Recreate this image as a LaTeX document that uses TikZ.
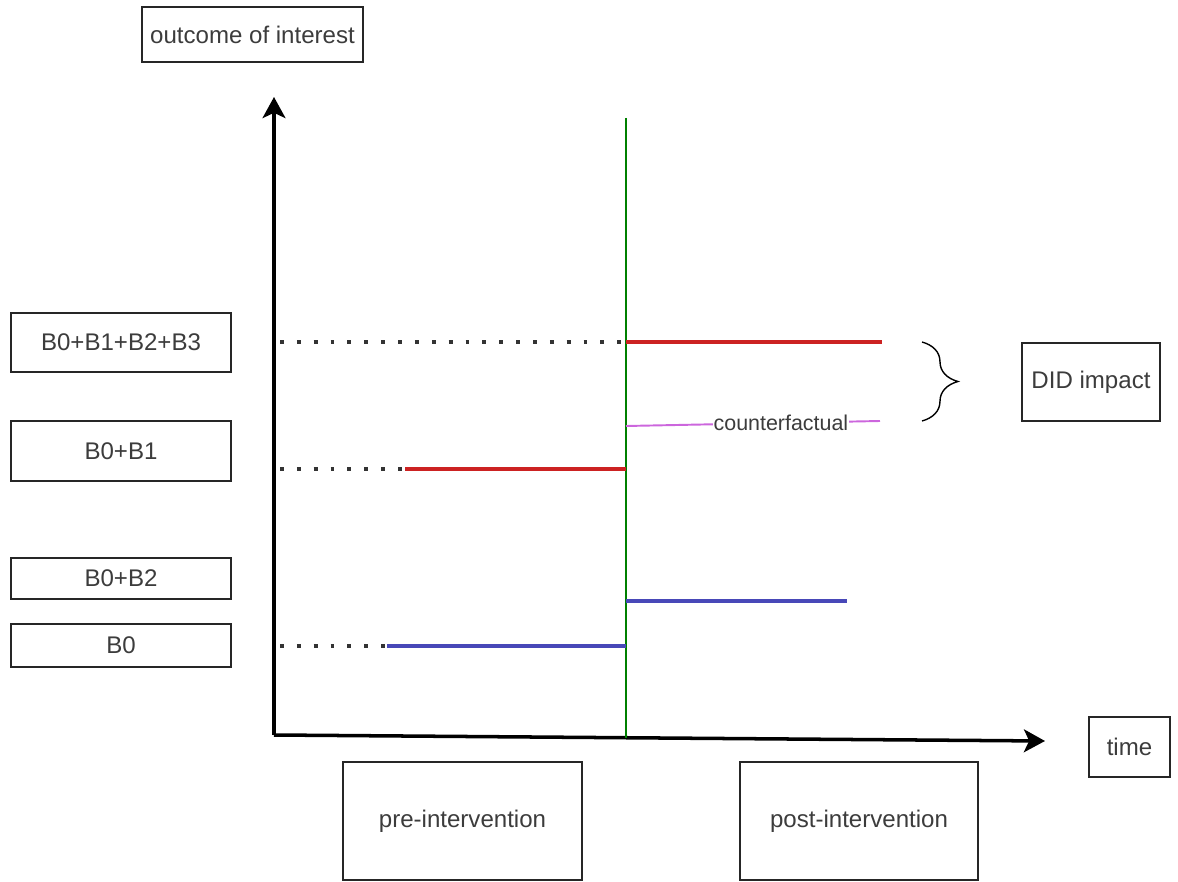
\documentclass[tikz,border=0pt]{standalone}
\usepackage{fontspec}
\setmainfont{Liberation Sans}
\usetikzlibrary{arrows.meta}
\usetikzlibrary{decorations.pathreplacing}
\tikzset{>={Stealth[length=12pt,width=13pt,inset=3pt]}}
\definecolor{didred}{RGB}{204,34,34}
\definecolor{didblue}{RGB}{72,72,184}
\definecolor{didpink}{RGB}{204,102,221}
\definecolor{didgreen}{RGB}{0,128,0}
\definecolor{textgray}{RGB}{60,60,60}
\tikzstyle{labelbox}=[draw=black!85,line width=0.8pt,text=textgray,font=\fontsize{13.7}{16}\selectfont,inner sep=0pt]
\tikzstyle{axisline}=[draw=black,line width=2pt]
\tikzstyle{redline}=[draw=didred,line width=2.3pt]
\tikzstyle{blueline}=[draw=didblue,line width=2.3pt]
\tikzstyle{dotline}=[draw=black!80,line width=2.2pt,dash pattern=on 2.2pt off 7.4pt]

\begin{document}
\begin{tikzpicture}[x=0.02cm,y=-0.02cm]
    \useasboundingbox (0,0) rectangle (1178,882);

    % label boxes
    \node[labelbox,minimum width=4.42cm,minimum height=1.1cm] (outcome) at (252.5,34.5) {outcome of interest};
    \node[labelbox,minimum width=4.4cm,minimum height=1.18cm] (bthree) at (121,342.5) {B0+B1+B2+B3};
    \node[labelbox,minimum width=4.4cm,minimum height=1.2cm] (bone) at (121,451) {B0+B1};
    \node[labelbox,minimum width=4.4cm,minimum height=0.82cm] (btwo) at (121,578.5) {B0+B2};
    \node[labelbox,minimum width=4.4cm,minimum height=0.86cm] (bzero) at (121,645.5) {B0};
    \node[labelbox,minimum width=2.76cm,minimum height=1.56cm] (did) at (1091,382) {DID impact};
    \node[labelbox,minimum width=1.62cm,minimum height=1.2cm] (time) at (1129.5,747) {time};
    \node[labelbox,minimum width=4.78cm,minimum height=2.36cm] (pre) at (462.5,821) {pre-intervention};
    \node[labelbox,minimum width=4.76cm,minimum height=2.36cm] (post) at (859,821) {post-intervention};

    % axes
    \coordinate (origin) at (274,735);
    \coordinate (ytip) at (274,97);
    \coordinate (xtip) at (1045,741);
    \draw[axisline,->] (origin) -- (ytip);
    \draw[axisline,->] (origin) -- (xtip);

    % intervention
    \coordinate (gtop) at (626,118);
    \coordinate (gbot) at (626,738);
    \draw[didgreen,line width=0.6pt] (gtop) -- (gbot);

    % levels
    \coordinate (dthree) at (280,342);
    \coordinate (tthree) at (626,342);
    \coordinate (ethree) at (882,342);
    \draw[dotline] (dthree) -- (tthree);
    \draw[redline] (tthree) -- (ethree);

    \coordinate (done) at (280,469);
    \coordinate (sone) at (405,469);
    \coordinate (tone) at (626,469);
    \draw[dotline] (done) -- (sone);
    \draw[redline] (sone) -- (tone);

    \coordinate (dzero) at (280,646);
    \coordinate (szero) at (387,646);
    \coordinate (tzero) at (626,646);
    \draw[dotline] (dzero) -- (szero);
    \draw[blueline] (szero) -- (tzero);

    \coordinate (ttwo) at (626,601);
    \coordinate (etwo) at (847,601);
    \draw[blueline] (ttwo) -- (etwo);

    \coordinate (cstart) at (626,426);
    \coordinate (cend) at (880,421);
    \draw[didpink,line width=1.1pt] (cstart) -- (cend)
      node[pos=0.61,fill=white,inner sep=0.5pt,text=textgray,font=\fontsize{12.2}{14}\selectfont] (cf) {counterfactual};

    % brace
    \coordinate (btop) at (922,342);
    \coordinate (bbot) at (922,421);
    \draw[black,line width=0.8pt,decorate,decoration={brace,amplitude=0.72cm}] (btop) -- (bbot);
  \end{tikzpicture}
\end{document}
